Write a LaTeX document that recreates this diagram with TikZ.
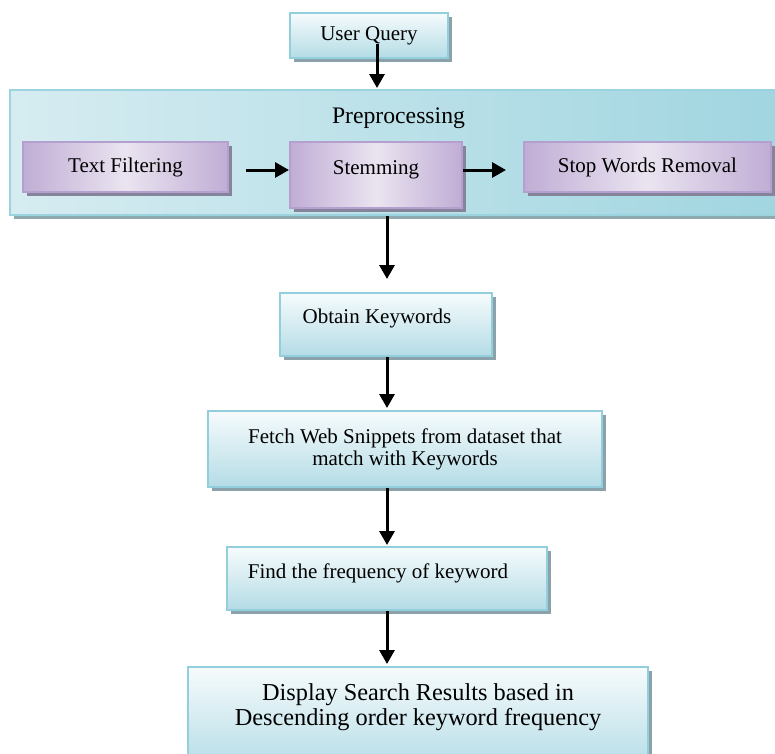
\documentclass[tikz,border=0pt]{standalone}
\usepackage{fontspec}
\setmainfont{Liberation Serif}
\usetikzlibrary{arrows.meta,shadows}

\definecolor{stagetop}{HTML}{F6FBFC}
\definecolor{stagebottom}{HTML}{B4DCE6}
\definecolor{stageline}{HTML}{92CEDB}
\definecolor{stageshadow}{HTML}{8CA2AA}
\definecolor{taskouter}{HTML}{C0ADD5}
\definecolor{taskinner}{HTML}{EAE4F0}
\definecolor{taskline}{HTML}{B3A0CE}
\definecolor{taskshadow}{HTML}{86849A}
\definecolor{panelleft}{HTML}{D6ECF1}
\definecolor{panelright}{HTML}{A0D5E0}
\definecolor{panelline}{HTML}{9BD3DF}
\definecolor{panelshadow}{HTML}{8EA9B0}

\tikzset{
    stage/.style = {
        draw=stageline,
        line width=2pt,
        top color=stagetop,
        bottom color=stagebottom,
        drop shadow={shadow xshift=4pt, shadow yshift=-4pt, fill=stageshadow, opacity=1},
        font=\fontsize{21}{22}\selectfont,
        inner sep=0pt
    },
    subtask/.style = {
        draw=taskline,
        line width=2pt,
        left color=taskouter,
        right color=taskouter,
        middle color=taskinner,
        drop shadow={shadow xshift=4pt, shadow yshift=-4pt, fill=taskshadow, opacity=1},
        font=\fontsize{21}{22}\selectfont,
        inner sep=0pt
    },
    panel/.style = {
        draw=panelline,
        line width=2pt,
        left color=panelleft,
        right color=panelright,
        drop shadow={shadow xshift=4pt, shadow yshift=-4pt, fill=panelshadow, opacity=1},
        inner sep=0pt
    },
    flow/.style = {
        -{Triangle[length=14pt,width=15pt]},
        line width=3pt,
        black
    }
}

\begin{document}
\begin{tikzpicture}[x=1pt, y=-1pt]
    \useasboundingbox (0,0) rectangle (775,753);

    % Draw the query and the preprocessing panel
    \node[stage, minimum width=158pt, minimum height=45pt] (query) at (369,35.5) {User Query};
    \node[panel, minimum width=780pt, minimum height=125pt] (panel) at (400,152.5) {};
    \node[font=\fontsize{23.7}{25}\selectfont, anchor=base] (pretitle) at (398.5,123) {Preprocessing};

    \node[subtask, minimum width=205pt, minimum height=50pt] (filter) at (125.5,167) {Text Filtering};
    \node[subtask, minimum width=172pt, minimum height=66pt, text height=15pt, text depth=17pt] (stem) at (376,175) {Stemming};
    \node[subtask, minimum width=247pt, minimum height=50pt] (stop) at (647.5,167) {Stop Words Removal};

    % Draw the later stages
    \node[stage, minimum width=212pt, minimum height=63pt, text height=15pt, text depth=17pt] (obtain) at (386,324.5)
        {Obtain Keywords\kern18pt};
    \node[stage, minimum width=394pt, minimum height=76pt, align=center] (fetch) at (405,449)
        {Fetch Web Snippets from dataset that\\match with Keywords};
    \node[stage, minimum width=320pt, minimum height=63pt, text height=15pt, text depth=16pt] (find) at (387,578.5)
        {Find the frequency of keyword\kern18pt};
    \node[stage, minimum width=460pt, minimum height=103pt, align=center, font=\fontsize{24.3}{25.5}\selectfont,
        text height=42pt, text depth=28pt] (display) at (418,718.5)
        {Display Search Results based in\\Descending order keyword frequency};

    % Draw arrows
    \coordinate (spine) at (387,0);
    \draw[flow, shorten >=1pt] ([xshift=8pt,yshift=-8pt]query.center) -- ([xshift=8pt]query.center |- panel.north);
    \draw[flow, shorten <=17pt] ([yshift=-3pt]filter.east) -- ([yshift=-3pt]filter.east -| stem.west);
    \draw[flow, shorten >=17pt] ([yshift=-3pt]filter.east -| stem.east) -- ([yshift=-3pt]filter.east -| stop.west);
    \draw[flow, shorten >=13pt] (spine |- panel.south) -- (spine |- obtain.north);
    \draw[flow, shorten >=2pt] (spine |- obtain.south) -- (spine |- fetch.north);
    \draw[flow, shorten >=1pt] (spine |- fetch.south) -- (spine |- find.north);
    \draw[flow, shorten >=2pt] (spine |- find.south) -- (spine |- display.north);
\end{tikzpicture}
\end{document}
